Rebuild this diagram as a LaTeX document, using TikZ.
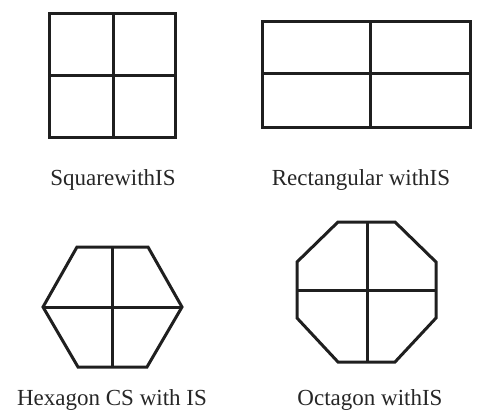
\documentclass[tikz,border=0pt]{standalone}
\usepackage{fontspec}
\setmainfont{Liberation Serif}
\begin{document}
\begin{tikzpicture}[x=1pt,y=-1pt,
  shape line/.style={line width=3pt,line join=miter,black!88},
  caption/.style={font=\fontsize{23}{26}\selectfont,inner sep=0pt,anchor=base,text=black!85}]
\useasboundingbox (0,0) rectangle (477,415);
% Square
\draw[shape line] (49.5,13) rectangle (175,137);
\draw[shape line] (113,13) -- (113,137) (49.5,75) -- (175,75);
% Rectangle
\draw[shape line] (262,21) rectangle (470,127);
\draw[shape line] (370,21) -- (370,127) (262,73) -- (470,73);
% Hexagon
\draw[shape line] (43,307) -- (77,247) -- (148,247) -- (182,307) -- (147,367) -- (78,367) -- cycle;
\draw[shape line] (112,247) -- (112,367) (43,307) -- (182,307);
% Octagon
\draw[shape line] (338,222) -- (395,222) -- (436,262) -- (436,318) -- (395,362) -- (338,362) -- (297,318) -- (297,262) -- cycle;
\draw[shape line] (367,222) -- (367,362) (297,290) -- (436,290);
% Captions
\node[caption] (c1) at (113,185) {SquarewithIS};
\node[caption] (c2) at (361,185) {Rectangular withIS};
\node[caption] (c3) at (112,405) {Hexagon CS with IS};
\node[caption] (c4) at (370,405) {Octagon withIS};
\end{tikzpicture}
\end{document}
